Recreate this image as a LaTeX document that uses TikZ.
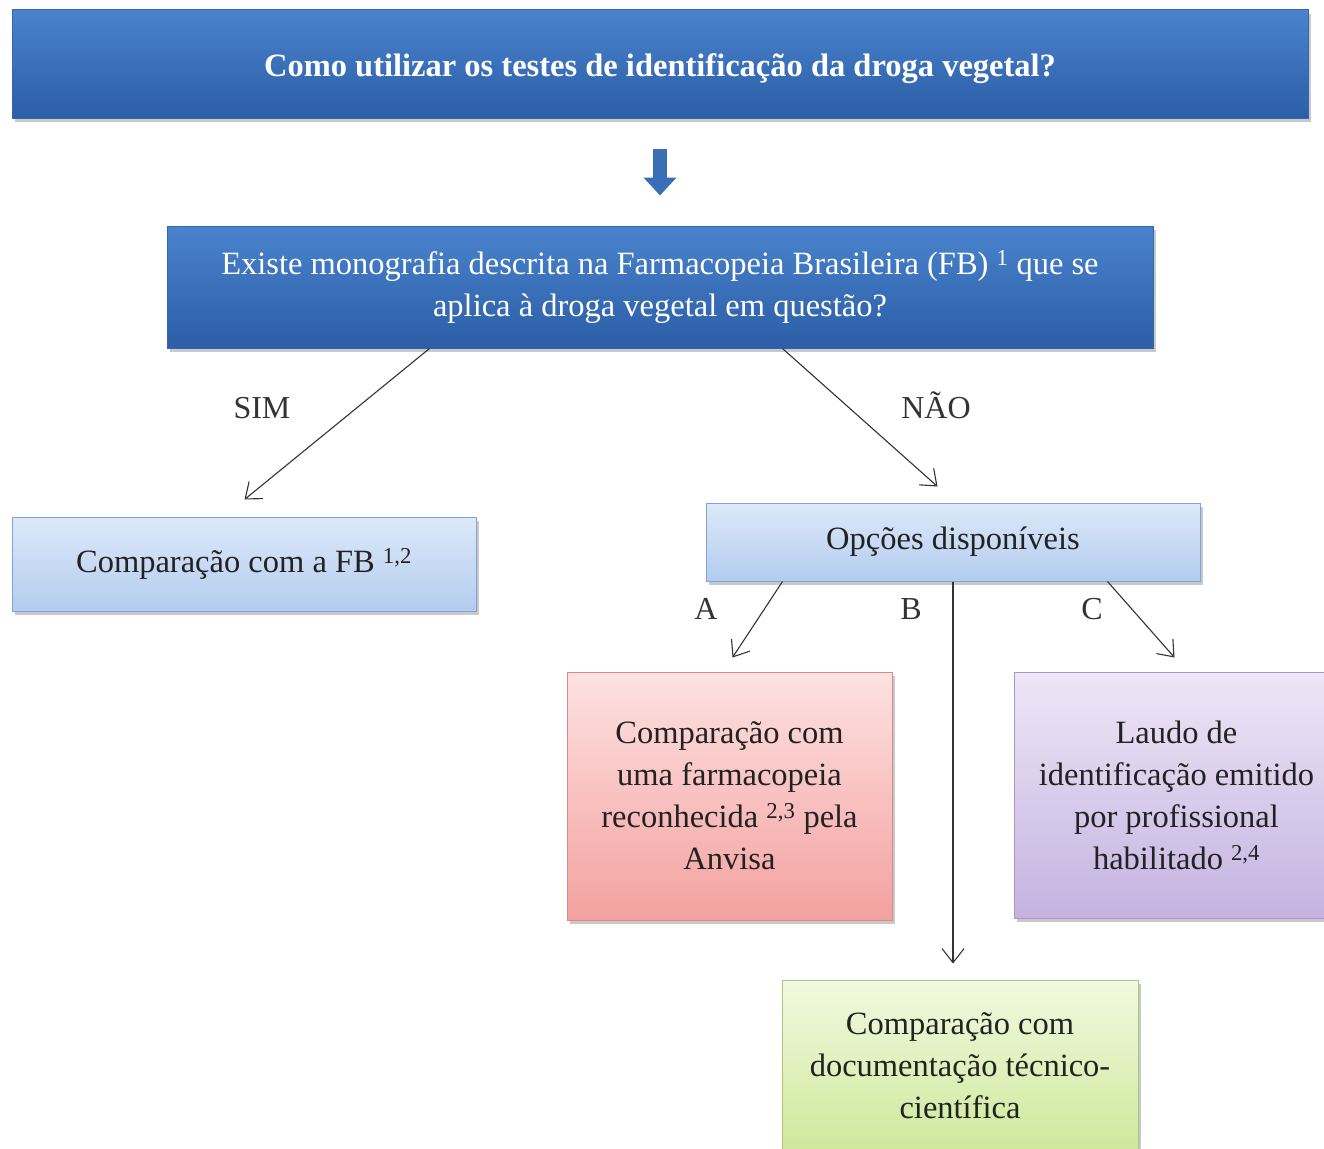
\documentclass[tikz,border=0pt]{standalone}
\usepackage{fontspec}
\setmainfont{Liberation Serif}
\usetikzlibrary{arrows.meta,shadows,calc}
\definecolor{dkblueT}{HTML}{4A83CD}
\definecolor{dkblueB}{HTML}{2B5EA6}
\definecolor{dkblueD}{HTML}{3467AE}
\definecolor{ltblueT}{HTML}{DDE9F9}
\definecolor{ltblueB}{HTML}{B3CCEF}
\definecolor{ltblueD}{HTML}{7FA3D6}
\definecolor{redT}{HTML}{FDE2E2}
\definecolor{redB}{HTML}{F3A19F}
\definecolor{redD}{HTML}{D98A88}
\definecolor{purT}{HTML}{EEE7F6}
\definecolor{purB}{HTML}{C5B2E1}
\definecolor{purD}{HTML}{A896C8}
\definecolor{grnT}{HTML}{F2F9E0}
\definecolor{grnB}{HTML}{CDE99A}
\definecolor{grnD}{HTML}{A9C97A}
\definecolor{txt}{HTML}{222222}
\definecolor{lne}{HTML}{333333}
\definecolor{arrblue}{HTML}{3A6FB7}
\tikzset{
  box/.style={draw, line width=1pt, font=\fontsize{32.5}{42}\selectfont, text=txt, align=center,
    drop shadow={shadow xshift=3pt, shadow yshift=-4pt, opacity=0.35, fill=black!60}},
  darkbox/.style={box, top color=dkblueT, bottom color=dkblueB, draw=dkblueD, text=white},
  lightbox/.style={box, top color=ltblueT, bottom color=ltblueB, draw=ltblueD},
  redbox/.style={box, top color=redT, bottom color=redB, draw=redD},
  purbox/.style={box, top color=purT, bottom color=purB, draw=purD},
  grnbox/.style={box, top color=grnT, bottom color=grnB, draw=grnD},
  conn/.style={draw=lne, line width=1.1pt, -{Straight Barb[length=14pt,width=22pt,line width=1.1pt]}},
  lbl/.style={font=\fontsize{32}{36}\selectfont, text=lne, anchor=base, inner sep=0pt},
}
\begin{document}
\begin{tikzpicture}[x=1pt,y=-1pt]
\clip (0,0) rectangle (1324,1148);
\fill[white] (0,0) rectangle (1324,1148);

\node[darkbox, minimum width=1296pt, minimum height=108pt, font=\bfseries\fontsize{32.5}{36}\selectfont] (top) at (660,64)
  {\raisebox{-5pt}[\height][\depth]{Como utilizar os testes de identificação da droga vegetal?}};

\node[darkbox, minimum width=986pt, minimum height=122pt] (q) at (660,287)
  {Existe monografia descrita na Farmacopeia Brasileira (FB) \textsuperscript{1} que se\\aplica à droga vegetal em questão?};

\node[lightbox, minimum width=464pt, minimum height=94pt] (fb) at (244,564)
  {Comparação com a FB \textsuperscript{1,2}};

\node[lightbox, minimum width=494pt, minimum height=78pt] (opc) at (953,542)
  {Opções disponíveis};

\node[redbox, minimum width=325pt, minimum height=248pt] (red) at (729.5,796)
  {Comparação com\\uma farmacopeia\\reconhecida \textsuperscript{2,3} pela\\Anvisa};

\node[purbox, minimum width=325pt, minimum height=246pt] (pur) at (1176.5,795)
  {Laudo de\\identificação emitido\\por profissional\\habilitado \textsuperscript{2,4}};

\node[grnbox, minimum width=356pt, minimum height=172pt] (grn) at (960,1066)
  {Comparação com\\documentação técnico-\\científica};

% thick blue arrow
\draw[arrblue, line width=14pt, -{Triangle[length=18pt,width=32pt]}]
  ($(top.south)+(0,30)$) -- ($(q.north)+(0,-30)$);

% connectors
\coordinate (simS) at ($(q.south west)+(263,0)$);
\coordinate (simE) at ($(fb.north west)+(233,-17)$);
\draw[conn] (simS) -- (simE);
\coordinate (naoS) at ($(q.south west)+(616,0)$);
\coordinate (naoE) at ($(opc.north west)+(232,-16)$);
\draw[conn] (naoS) -- (naoE);

\coordinate (aS) at ($(opc.south west)+(77,0)$);
\coordinate (aE) at ($(red.north west)+(166,-14)$);
\draw[conn] (aS) -- (aE);
\coordinate (bE) at ($(grn.north)+(-5,-16)$);
\draw[conn] (opc.south) -- (opc.south |- bE);
\coordinate (cS) at ($(opc.south west)+(402,0)$);
\coordinate (cE) at ($(pur.north west)+(161,-14)$);
\draw[conn] (cS) -- (cE);

% labels
\node[lbl] (lsim) at (262,418) {SIM};
\node[lbl] (lnao) at (936,418) {NÃO};
\node[lbl] (la) at (706,619) {A};
\node[lbl] (lb) at (911,619) {B};
\node[lbl] (lc) at (1092,619) {C};
\end{tikzpicture}
\end{document}
